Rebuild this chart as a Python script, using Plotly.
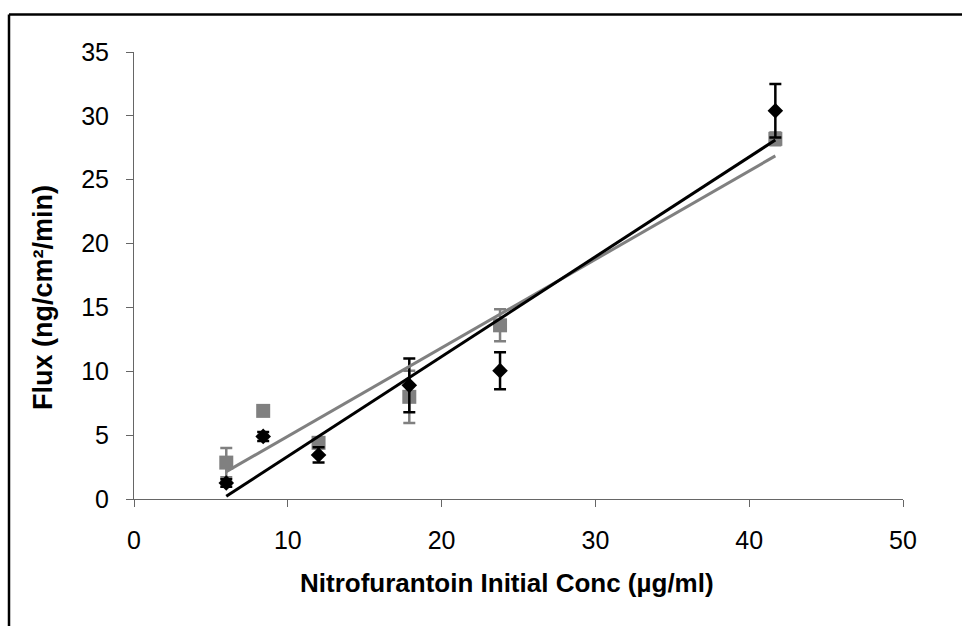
import numpy as np
import plotly.graph_objects as go

# Data
conc = [6.0, 8.4, 12.0, 17.9, 23.8, 41.7]
flux_black = [1.25, 4.9, 3.45, 8.9, 10.05, 30.4]
err_black = [0.3, 0.35, 0.6, 2.1, 1.45, 2.1]
flux_gray = [2.85, 6.9, 4.4, 8.0, 13.6, 28.2]
err_gray = [1.15, 0.3, 0.4, 2.05, 1.25, 0.5]

x_ticks = [0, 10, 20, 30, 40, 50]
y_ticks = [0, 5, 10, 15, 20, 25, 30, 35]

BLACK = "#000000"
GRAY = "#808080"

# Linear trendlines (least squares), as Excel does
def trend(x, y):
    m, b = np.polyfit(x, y, 1)
    xs = [min(x), max(x)]
    return xs, [m * v + b for v in xs]

tgx, tgy = trend(conc, flux_gray)
tbx, tby = trend(conc, flux_black)

fig = go.Figure()
fig.add_trace(go.Scatter(
    x=conc, y=flux_gray, mode="markers",
    marker=dict(symbol="square", size=14, color=GRAY),
    error_y=dict(type="data", array=err_gray, color=GRAY, thickness=2.5, width=6),
    showlegend=False))
fig.add_trace(go.Scatter(
    x=conc, y=flux_black, mode="markers",
    marker=dict(symbol="diamond", size=12, color=BLACK),
    error_y=dict(type="data", array=err_black, color=BLACK, thickness=2.5, width=6),
    showlegend=False))
fig.add_trace(go.Scatter(x=tgx, y=tgy, mode="lines",
                         line=dict(color=GRAY, width=3), showlegend=False))
fig.add_trace(go.Scatter(x=tbx, y=tby, mode="lines",
                         line=dict(color=BLACK, width=3), showlegend=False))

FONT = "Liberation Sans, Arial, sans-serif"
AX = "#666666"

fig.update_layout(
    width=962, height=626,
    margin=dict(l=134, r=59, t=52, b=127),
    paper_bgcolor="white", plot_bgcolor="white",
    font=dict(family=FONT, color="black", size=25),
    xaxis=dict(range=[0, 50], tickvals=x_ticks, ticks="outside", ticklen=7,
               tickcolor=AX, tickwidth=1, showline=True, linecolor=AX, linewidth=1,
               showgrid=False, zeroline=False, tickfont=dict(size=25, family=FONT),
               ticklabelstandoff=12, fixedrange=True),
    yaxis=dict(range=[0, 35], tickvals=y_ticks, ticks="outside", ticklen=7,
               tickcolor=AX, tickwidth=1, showline=True, linecolor=AX, linewidth=1,
               showgrid=False, zeroline=False, tickfont=dict(size=25, family=FONT),
               ticklabelstandoff=12, fixedrange=True),
    annotations=[
        dict(text="<b>Nitrofurantoin Initial Conc (µg/ml)</b>", xref="paper", yref="paper",
             x=(507 - 134) / 769, y=(499 - 583) / 447, showarrow=False,
             xanchor="center", yanchor="middle", font=dict(size=26, family=FONT)),
        dict(text="<b>Flux (ng/cm²/min)</b>", xref="paper", yref="paper",
             x=(43 - 134) / 769, y=(499 - 298) / 447, showarrow=False, textangle=-90,
             xanchor="center", yanchor="middle", font=dict(size=27, family=FONT)),
    ],
    shapes=[
        dict(type="line", xref="paper", yref="paper",
             x0=(9 - 134) / 769, x1=1.2, y0=(499 - 14.5) / 447, y1=(499 - 14.5) / 447,
             line=dict(color="black", width=2.5)),
        dict(type="line", xref="paper", yref="paper",
             x0=(9 - 134) / 769, x1=(9 - 134) / 769, y0=(499 - 14.5) / 447, y1=-0.5,
             line=dict(color="black", width=2.5)),
    ],
)

fig.write_html("out.html")
